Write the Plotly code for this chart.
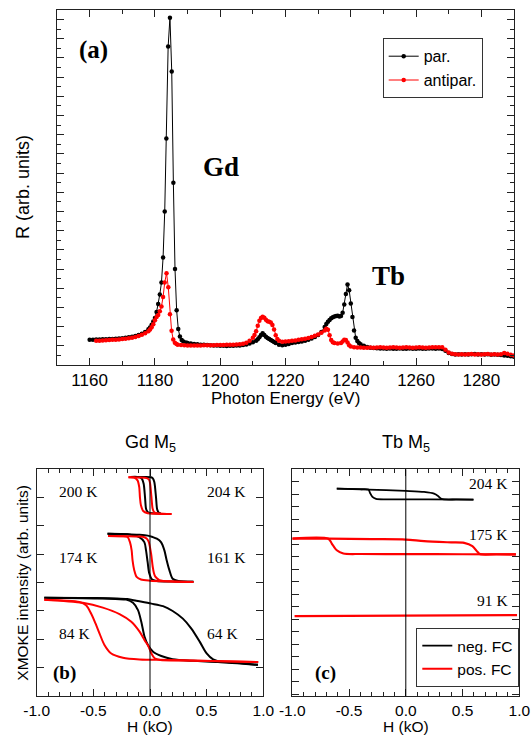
import plotly.graph_objects as go

SANS = "Liberation Sans, Arial, sans-serif"
SERIF = "Liberation Serif, Times New Roman, serif"

# ---------------- Panel (a): reflectivity spectra ----------------
e_par = [1160, 1161, 1162, 1163, 1164, 1165, 1166, 1167, 1168, 1169, 1170, 1171, 1172, 1173, 1174, 1175,
         1176, 1177, 1178, 1178.5, 1179, 1179.5, 1180, 1180.5, 1181, 1181.5, 1182, 1182.5, 1183, 1183.5,
         1184.05, 1184.6, 1185.15, 1185.65, 1186.15, 1186.65, 1187.15, 1187.65, 1188.2, 1188.7, 1189.5,
         1190, 1191, 1192, 1193, 1194, 1195, 1196, 1197, 1198, 1199, 1200, 1201, 1202, 1203, 1204, 1205,
         1206, 1207, 1208, 1209, 1210, 1211, 1211.5, 1212, 1212.5, 1213, 1213.5, 1214, 1214.5, 1215,
         1215.5, 1216, 1216.5, 1217, 1218, 1219, 1220, 1221, 1222, 1223, 1224, 1225, 1226, 1227, 1228,
         1229, 1230, 1231, 1232, 1232.5, 1233, 1233.5, 1234, 1234.5, 1235, 1235.5, 1236, 1236.5, 1237,
         1237.5, 1238, 1238.5, 1239, 1239.5, 1240, 1240.5, 1241, 1241.5, 1242, 1242.5, 1243, 1244, 1245,
         1246, 1247, 1248, 1249, 1250, 1251, 1252, 1253, 1254, 1255, 1256, 1257, 1258, 1259, 1260, 1261,
         1262, 1263, 1264, 1265, 1266, 1267, 1268, 1269, 1270, 1271, 1272, 1273, 1274, 1275, 1276, 1277,
         1278, 1279, 1280, 1281, 1282, 1283, 1284, 1285, 1286, 1287, 1288, 1289, 1290]
r_par = [1.32, 1.32, 1.33, 1.33, 1.34, 1.34, 1.35, 1.36, 1.37, 1.38, 1.40, 1.42, 1.44, 1.47, 1.51, 1.56,
         1.63, 1.72, 1.86, 1.96, 2.10, 2.27, 2.45, 2.76, 3.18, 3.68, 4.30, 5.60, 8.00, 11.8,
         16.6, 18.1, 15.3, 9.5, 5.0, 2.85, 1.88, 1.48, 1.30, 1.22, 1.17,
         1.14, 1.12, 1.10, 1.08, 1.06, 1.05, 1.04, 1.03, 1.02, 1.01, 1.00, 1.00, 0.99, 1.00, 1.00, 1.01,
         1.02, 1.04, 1.07, 1.12, 1.18, 1.27, 1.34, 1.44, 1.56, 1.65, 1.56, 1.47, 1.41, 1.35,
         1.30, 1.25, 1.20, 1.14, 1.06, 1.03, 1.06, 1.10, 1.14, 1.17, 1.20, 1.23, 1.27, 1.32, 1.38,
         1.46, 1.56, 1.72, 1.98, 2.14, 2.26, 2.35, 2.43, 2.49, 2.53, 2.56, 2.57, 2.53, 2.55,
         2.72, 3.15, 3.70, 4.20, 3.90, 3.20, 2.50, 1.80, 1.42, 1.25, 1.15, 1.08, 1.00, 0.94,
         0.90, 0.88, 0.87, 0.86, 0.86, 0.85, 0.86, 0.85, 0.85, 0.86, 0.85, 0.85, 0.86, 0.85, 0.85, 0.86,
         0.85, 0.85, 0.86, 0.86, 0.85, 0.86, 0.84, 0.74, 0.62, 0.57, 0.55, 0.56, 0.55, 0.56, 0.55, 0.56,
         0.57, 0.55, 0.56, 0.55, 0.56, 0.54, 0.55, 0.53, 0.52, 0.50, 0.48, 0.45, 0.43]

e_anti = [1162, 1163, 1164, 1165, 1166, 1167, 1168, 1169, 1170, 1171, 1172, 1173, 1174, 1175, 1176, 1177,
          1178, 1178.5, 1179, 1179.5, 1180, 1180.5, 1181, 1181.5, 1182, 1182.5, 1183, 1183.55, 1184.1,
          1184.6, 1185.1, 1185.6, 1186.1, 1186.6, 1187, 1188, 1189, 1190, 1191, 1192, 1193, 1194, 1195,
          1196, 1197, 1198, 1199, 1200, 1201, 1202, 1203, 1204, 1205, 1206, 1207, 1208, 1209, 1210,
          1210.5, 1211, 1211.5, 1212, 1212.5, 1213, 1213.5, 1214, 1214.5, 1215, 1215.5, 1216, 1216.5,
          1217, 1217.5, 1218, 1219, 1220, 1221, 1222, 1223, 1224, 1225, 1226, 1227, 1228, 1229, 1230,
          1231, 1232, 1232.5, 1233, 1233.5, 1234, 1234.5, 1235, 1236, 1237, 1237.5, 1238, 1238.5, 1239,
          1239.5, 1240, 1241, 1242, 1243, 1244, 1245, 1246, 1247, 1248, 1249, 1250, 1251, 1252, 1253,
          1254, 1255, 1256, 1257, 1258, 1259, 1260, 1261, 1262, 1263, 1264, 1265, 1266, 1267, 1268,
          1269, 1270, 1271, 1272, 1273, 1274, 1275, 1276, 1277, 1278, 1279, 1280, 1281, 1282, 1283,
          1284, 1285, 1286, 1287, 1288, 1289, 1290]
r_anti = [1.26, 1.27, 1.28, 1.29, 1.30, 1.31, 1.32, 1.33, 1.35, 1.37, 1.39, 1.42, 1.46, 1.51, 1.57, 1.65,
          1.76, 1.85, 1.97, 2.13, 2.33, 2.50, 2.60, 2.80, 3.05, 3.55, 4.30, 4.78, 4.05,
          2.65, 1.78, 1.33, 1.16, 1.09, 1.06, 1.04, 1.03, 1.02, 1.02, 1.02, 1.02, 1.02, 1.03,
          1.03, 1.03, 1.03, 1.04, 1.04, 1.04, 1.05, 1.05, 1.06, 1.07, 1.08, 1.11, 1.16, 1.26, 1.42,
          1.56, 1.76, 2.04, 2.30, 2.45, 2.52, 2.46, 2.36, 2.28, 2.25, 2.22, 2.08, 1.85,
          1.55, 1.36, 1.26, 1.21, 1.22, 1.24, 1.26, 1.28, 1.31, 1.34, 1.37, 1.41, 1.46, 1.52, 1.59,
          1.68, 1.80, 1.89, 1.84, 1.55, 1.30, 1.19, 1.14, 1.12, 1.15, 1.22, 1.32, 1.30, 1.17,
          1.03, 0.96, 0.93, 0.91, 0.91, 0.90, 0.90, 0.91, 0.90, 0.91, 0.92, 0.91, 0.90, 0.91, 0.92,
          0.91, 0.90, 0.91, 0.92, 0.91, 0.90, 0.91, 0.92, 0.91, 0.90, 0.91, 0.92, 0.93, 0.92, 0.92,
          0.80, 0.65, 0.58, 0.56, 0.55, 0.56, 0.55, 0.56, 0.57, 0.55, 0.56, 0.55, 0.56, 0.57, 0.55,
          0.56, 0.55, 0.56, 0.62, 0.58, 0.53, 0.50]

energy_ticks = [1160, 1180, 1200, 1220, 1240, 1260, 1280]

# ---------------- Panel (b): Gd M5 hysteresis loops ----------------
# each loop: field sweep up (h_up, m_up) and sweep down (h_dn, m_dn)
gd_top_blk_h_up = [-0.17, -0.05, 0.008, 0.025, 0.038, 0.053, 0.062, 0.072, 0.082, 0.095]
gd_top_blk_m_up = [7.73, 7.73, 7.72, 7.68, 7.55, 7.02, 6.61, 6.50, 6.45, 6.44]
gd_top_blk_h_dn = [-0.17, -0.09, -0.071, -0.056, -0.044, -0.035, -0.025, -0.012, 0.03, 0.095]
gd_top_blk_m_dn = [7.73, 7.72, 7.66, 7.49, 7.02, 6.61, 6.52, 6.47, 6.45, 6.44]
gd_top_red_h_up = [-0.19, -0.10, -0.03, -0.01, 0.0, 0.012, 0.023, 0.035, 0.05, 0.08, 0.19]
gd_top_red_m_up = [7.72, 7.71, 7.69, 7.64, 7.52, 7.05, 6.62, 6.50, 6.46, 6.44, 6.42]
gd_top_red_h_dn = [-0.19, -0.14, -0.11, -0.095, -0.089, -0.08, -0.06, -0.02, 0.05, 0.19]
gd_top_red_m_dn = [7.72, 7.71, 7.61, 7.37, 7.02, 6.73, 6.53, 6.45, 6.43, 6.42]

gd_mid_blk_h_up = [-0.375, -0.2, -0.1, -0.02, 0.023, 0.06, 0.097, 0.127, 0.147, 0.171, 0.2, 0.25, 0.383]
gd_mid_blk_m_up = [5.73, 5.71, 5.69, 5.66, 5.61, 5.55, 5.43, 5.14, 4.79, 4.44, 4.14, 4.06, 4.03]
gd_mid_blk_h_dn = [-0.375, -0.2, -0.095, -0.05, -0.035, -0.021, -0.006, 0.018, 0.06, 0.2, 0.383]
gd_mid_blk_m_dn = [5.73, 5.71, 5.61, 5.43, 5.14, 4.73, 4.32, 4.11, 4.06, 4.04, 4.03]
gd_mid_red_h_up = [-0.37, -0.2, -0.1, -0.065, -0.03, -0.012, 0.009, 0.024, 0.035, 0.047, 0.083, 0.2, 0.383]
gd_mid_red_m_up = [5.65, 5.64, 5.63, 5.62, 5.56, 5.45, 5.04, 4.56, 4.33, 4.21, 4.09, 4.04, 4.02]
gd_mid_red_h_dn = [-0.37, -0.25, -0.198, -0.177, -0.162, -0.154, -0.139, -0.118, -0.08, 0.0, 0.2, 0.383]
gd_mid_red_m_dn = [5.65, 5.64, 5.61, 5.43, 5.14, 4.79, 4.44, 4.20, 4.11, 4.07, 4.04, 4.02]

gd_low_blk_h_up = [-0.933, -0.5, -0.2, -0.121, 0.012, 0.115, 0.2, 0.29, 0.365, 0.44, 0.5, 0.557, 0.6, 0.75, 0.953]
gd_low_blk_m_up = [3.47, 3.46, 3.42, 3.36, 3.26, 3.17, 3.00, 2.73, 2.38, 1.91, 1.50, 1.29, 1.23, 1.18, 1.10]
gd_low_blk_h_dn = [-0.933, -0.416, -0.21, -0.15, -0.106, -0.077, -0.048, -0.018, 0.027, 0.1, 0.2, 0.38, 0.6, 0.953]
gd_low_blk_m_dn = [3.47, 3.44, 3.40, 3.29, 3.03, 2.62, 2.09, 1.80, 1.56, 1.41, 1.30, 1.24, 1.20, 1.10]
gd_low_red_h_up = [-0.933, -0.593, -0.416, -0.269, -0.165, -0.092, -0.048, -0.012, 0.012, 0.041, 0.091, 0.3, 0.955]
gd_low_red_m_up = [3.40, 3.29, 3.12, 2.89, 2.62, 2.27, 1.97, 1.74, 1.50, 1.33, 1.27, 1.25, 1.20]
gd_low_red_h_dn = [-0.933, -0.623, -0.564, -0.52, -0.481, -0.446, -0.402, -0.342, -0.239, -0.092, 0.174, 0.955]
gd_low_red_m_dn = [3.40, 3.32, 3.20, 2.91, 2.56, 2.21, 1.80, 1.50, 1.35, 1.29, 1.27, 1.20]

# ---------------- Panel (c): Tb M5 hysteresis loops ----------------
tb_204_h_up = [-0.608, -0.329, 0.0, 0.161, 0.249, 0.284, 0.314, 0.45, 0.596]
tb_204_m_up = [16.47, 16.39, 16.28, 16.20, 16.06, 15.88, 15.64, 15.60, 15.58]
tb_204_h_dn = [-0.608, -0.4, -0.329, -0.315, -0.294, -0.262, -0.138, 0.2, 0.596]
tb_204_m_dn = [16.47, 16.42, 16.39, 16.12, 15.80, 15.64, 15.61, 15.60, 15.58]
tb_175_h_up = [-1.0, -0.682, -0.3, 0.0, 0.161, 0.4, 0.514, 0.587, 0.631, 0.655, 0.8, 0.97]
tb_175_m_up = [12.47, 12.46, 12.42, 12.39, 12.26, 12.16, 12.12, 11.86, 11.41, 11.22, 11.21, 11.20]
tb_175_h_dn = [-1.0, -0.682, -0.652, -0.608, -0.55, -0.4, 0.0, 0.5, 0.97]
tb_175_m_dn = [12.47, 12.46, 12.07, 11.53, 11.27, 11.23, 11.22, 11.21, 11.20]
tb_91_h = [-0.98, -0.5, 0.0, 0.5, 0.98]
tb_91_m = [6.26, 6.27, 6.28, 6.30, 6.33]

field_ticks = [-1.0, -0.5, 0.0, 0.5, 1.0]
field_labels = ["-1.0", "-0.5", "0.0", "0.5", "1.0"]

BLACK = "#000000"
RED = "#ff0000"

fig = go.Figure()

# panel (a)
fig.add_trace(go.Scatter(x=e_par, y=r_par, mode="lines+markers", name="par.",
                         line=dict(color=BLACK, width=1), marker=dict(color=BLACK, size=4.5),
                         xaxis="x", yaxis="y", legend="legend"))
fig.add_trace(go.Scatter(x=e_anti, y=r_anti, mode="lines+markers", name="antipar.",
                         line=dict(color=RED, width=1), marker=dict(color=RED, size=4.5),
                         xaxis="x", yaxis="y", legend="legend"))


def loop(h_up, m_up, h_dn, m_dn, color, xa, ya, width=2.0, name=None, show=False):
    x = list(h_up) + [None] + list(h_dn)
    y = list(m_up) + [None] + list(m_dn)
    fig.add_trace(go.Scatter(x=x, y=y, mode="lines", connectgaps=False,
                             line=dict(color=color, width=width, shape="spline", smoothing=0.8),
                             xaxis=xa, yaxis=ya, name=name, showlegend=show, legend="legend2"))


# panel (b)
loop(gd_top_blk_h_up, gd_top_blk_m_up, gd_top_blk_h_dn, gd_top_blk_m_dn, BLACK, "x2", "y2")
loop(gd_mid_blk_h_up, gd_mid_blk_m_up, gd_mid_blk_h_dn, gd_mid_blk_m_dn, BLACK, "x2", "y2")
loop(gd_low_blk_h_up, gd_low_blk_m_up, gd_low_blk_h_dn, gd_low_blk_m_dn, BLACK, "x2", "y2")
loop(gd_top_red_h_up, gd_top_red_m_up, gd_top_red_h_dn, gd_top_red_m_dn, RED, "x2", "y2")
loop(gd_mid_red_h_up, gd_mid_red_m_up, gd_mid_red_h_dn, gd_mid_red_m_dn, RED, "x2", "y2")
loop(gd_low_red_h_up, gd_low_red_m_up, gd_low_red_h_dn, gd_low_red_m_dn, RED, "x2", "y2")

# panel (c)
loop(tb_204_h_up, tb_204_m_up, tb_204_h_dn, tb_204_m_dn, BLACK, "x3", "y3", width=1.8,
     name="neg. FC", show=True)
loop(tb_175_h_up, tb_175_m_up, tb_175_h_dn, tb_175_m_dn, RED, "x3", "y3", width=2.2,
     name="pos. FC", show=True)
fig.add_trace(go.Scatter(x=tb_91_h, y=tb_91_m, mode="lines", line=dict(color=RED, width=2.2),
                         xaxis="x3", yaxis="y3", showlegend=False))

W, H = 532, 736


def px_x(p):
    return p / W


def px_y(p):
    return 1 - p / H


axis_common = dict(showline=True, linecolor="#222", linewidth=1, mirror="ticks", ticks="inside",
                   tickcolor="#222", showgrid=False, zeroline=False, automargin=False)

fig.update_layout(
    width=W, height=H, margin=dict(l=0, r=0, t=0, b=0, autoexpand=False),
    paper_bgcolor="white", plot_bgcolor="white",
    font=dict(family=SANS, color="black"),
    xaxis=dict(domain=[px_x(57), px_x(514)], range=[1150, 1290], anchor="y",
               tickvals=energy_ticks, ticktext=[str(v) for v in energy_ticks], ticklen=7,
               minor=dict(ticks="inside", dtick=10, tick0=1150, ticklen=4, tickcolor="#222"),
               tickfont=dict(size=17, family=SANS), **axis_common),
    yaxis=dict(domain=[px_y(365), px_y(10)], range=[0, 18.5], anchor="x",
               dtick=1, tick0=0, ticklen=7, showticklabels=False,
               minor=dict(ticks="inside", dtick=0.5, tick0=0, ticklen=4, tickcolor="#222"),
               **axis_common),
    xaxis2=dict(domain=[px_x(36.7), px_x(263.3)], range=[-1, 1], anchor="y2",
                tickvals=field_ticks, ticktext=field_labels, ticklen=7,
                minor=dict(ticks="inside", dtick=0.1, tick0=0, ticklen=4, tickcolor="#222"),
                tickfont=dict(size=15.5, family=SANS), **axis_common),
    yaxis2=dict(domain=[px_y(696), px_y(469.3)], range=[0, 8], anchor="x2",
                tickvals=[1, 2, 3, 4, 5, 6, 7], ticklen=7, showticklabels=False, **axis_common),
    xaxis3=dict(domain=[px_x(292.3), px_x(519.3)], range=[-1, 1], anchor="y3",
                tickvals=field_ticks, ticktext=field_labels, ticklen=7,
                minor=dict(ticks="inside", dtick=0.1, tick0=0, ticklen=4, tickcolor="#222"),
                tickfont=dict(size=15.5, family=SANS), **axis_common),
    yaxis3=dict(domain=[px_y(696), px_y(469.3)], range=[-0.144, 18.016], anchor="x3",
                dtick=1, tick0=0, ticklen=7, showticklabels=False, **axis_common),
    legend=dict(x=px_x(382.7), y=px_y(38.3), xanchor="left", yanchor="top",
                bordercolor="#333", borderwidth=1, bgcolor="white",
                font=dict(family=SANS, size=16), itemwidth=30, tracegroupgap=0),
    legend2=dict(x=px_x(519.3), y=px_y(687), xanchor="right", yanchor="bottom",
                 bordercolor="#333", borderwidth=1, bgcolor="white",
                 font=dict(family=SANS, size=15.5), itemwidth=30, tracegroupgap=0),
)

# zero-field vertical lines
for xa, ya in (("x2", "y2"), ("x3", "y3")):
    fig.add_shape(type="line", xref=xa, yref=ya + " domain", x0=0, x1=0, y0=0, y1=1,
                  line=dict(color="black", width=1))

ann = []


def txt(text, x, y, xref="paper", yref="paper", size=16, family=SANS, bold=False, angle=0,
        xanchor="center", yanchor="middle"):
    t = f"<b>{text}</b>" if bold else text
    ann.append(dict(text=t, x=x, y=y, xref=xref, yref=yref, showarrow=False, textangle=angle,
                    font=dict(size=size, family=family, color="black"),
                    xanchor=xanchor, yanchor=yanchor))


# axis titles
txt("Photon Energy (eV)", px_x(285.5), px_y(398), size=17)
txt("R (arb. units)", px_x(23), px_y(187), size=18, angle=-90)
txt("H (kO)", px_x(150), px_y(726), size=15.5)
txt("H (kO)", px_x(406), px_y(726), size=15.5)
txt("XMOKE intensity (arb. units)", px_x(21.7), px_y(583), size=15.5, angle=-90)
txt("Gd M<sub>5</sub>", px_x(150), px_y(443), size=18)
txt("Tb M<sub>5</sub>", px_x(406), px_y(443), size=18)

# panel (a) labels
txt("(a)", 1161.3, 16.43, "x", "y", size=25, family=SERIF, bold=True)
txt("Gd", 1200.2, 10.3, "x", "y", size=27, family=SERIF, bold=True)
txt("Tb", 1251.6, 4.66, "x", "y", size=27, family=SERIF, bold=True)

# panel (b) labels
txt("200 K", -0.632, 7.2, "x2", "y2", size=15.5, family=SERIF)
txt("204 K", 0.672, 7.2, "x2", "y2", size=15.5, family=SERIF)
txt("174 K", -0.632, 4.89, "x2", "y2", size=15.5, family=SERIF)
txt("161 K", 0.672, 4.89, "x2", "y2", size=15.5, family=SERIF)
txt("84 K", -0.67, 2.21, "x2", "y2", size=15.5, family=SERIF)
txt("64 K", 0.637, 2.21, "x2", "y2", size=15.5, family=SERIF)
txt("(b)", -0.752, 0.8, "x2", "y2", size=19, family=SERIF, bold=True)

# panel (c) labels
txt("204 K", 0.92, 16.9, "x3", "y3", size=15.5, family=SERIF, xanchor="right")
txt("175 K", 0.92, 12.79, "x3", "y3", size=15.5, family=SERIF, xanchor="right")
txt("91 K", 0.92, 7.54, "x3", "y3", size=15.5, family=SERIF, xanchor="right")
txt("(c)", -0.711, 1.67, "x3", "y3", size=19, family=SERIF, bold=True)

fig.update_layout(annotations=ann)

# remove the default 8 px page margin so the 532x736 figure fills the window exactly
fig.write_html("out.html",
               config={"displayModeBar": False},
               post_script="document.body.style.margin='0px';"
                           "document.body.style.overflow='hidden';")
